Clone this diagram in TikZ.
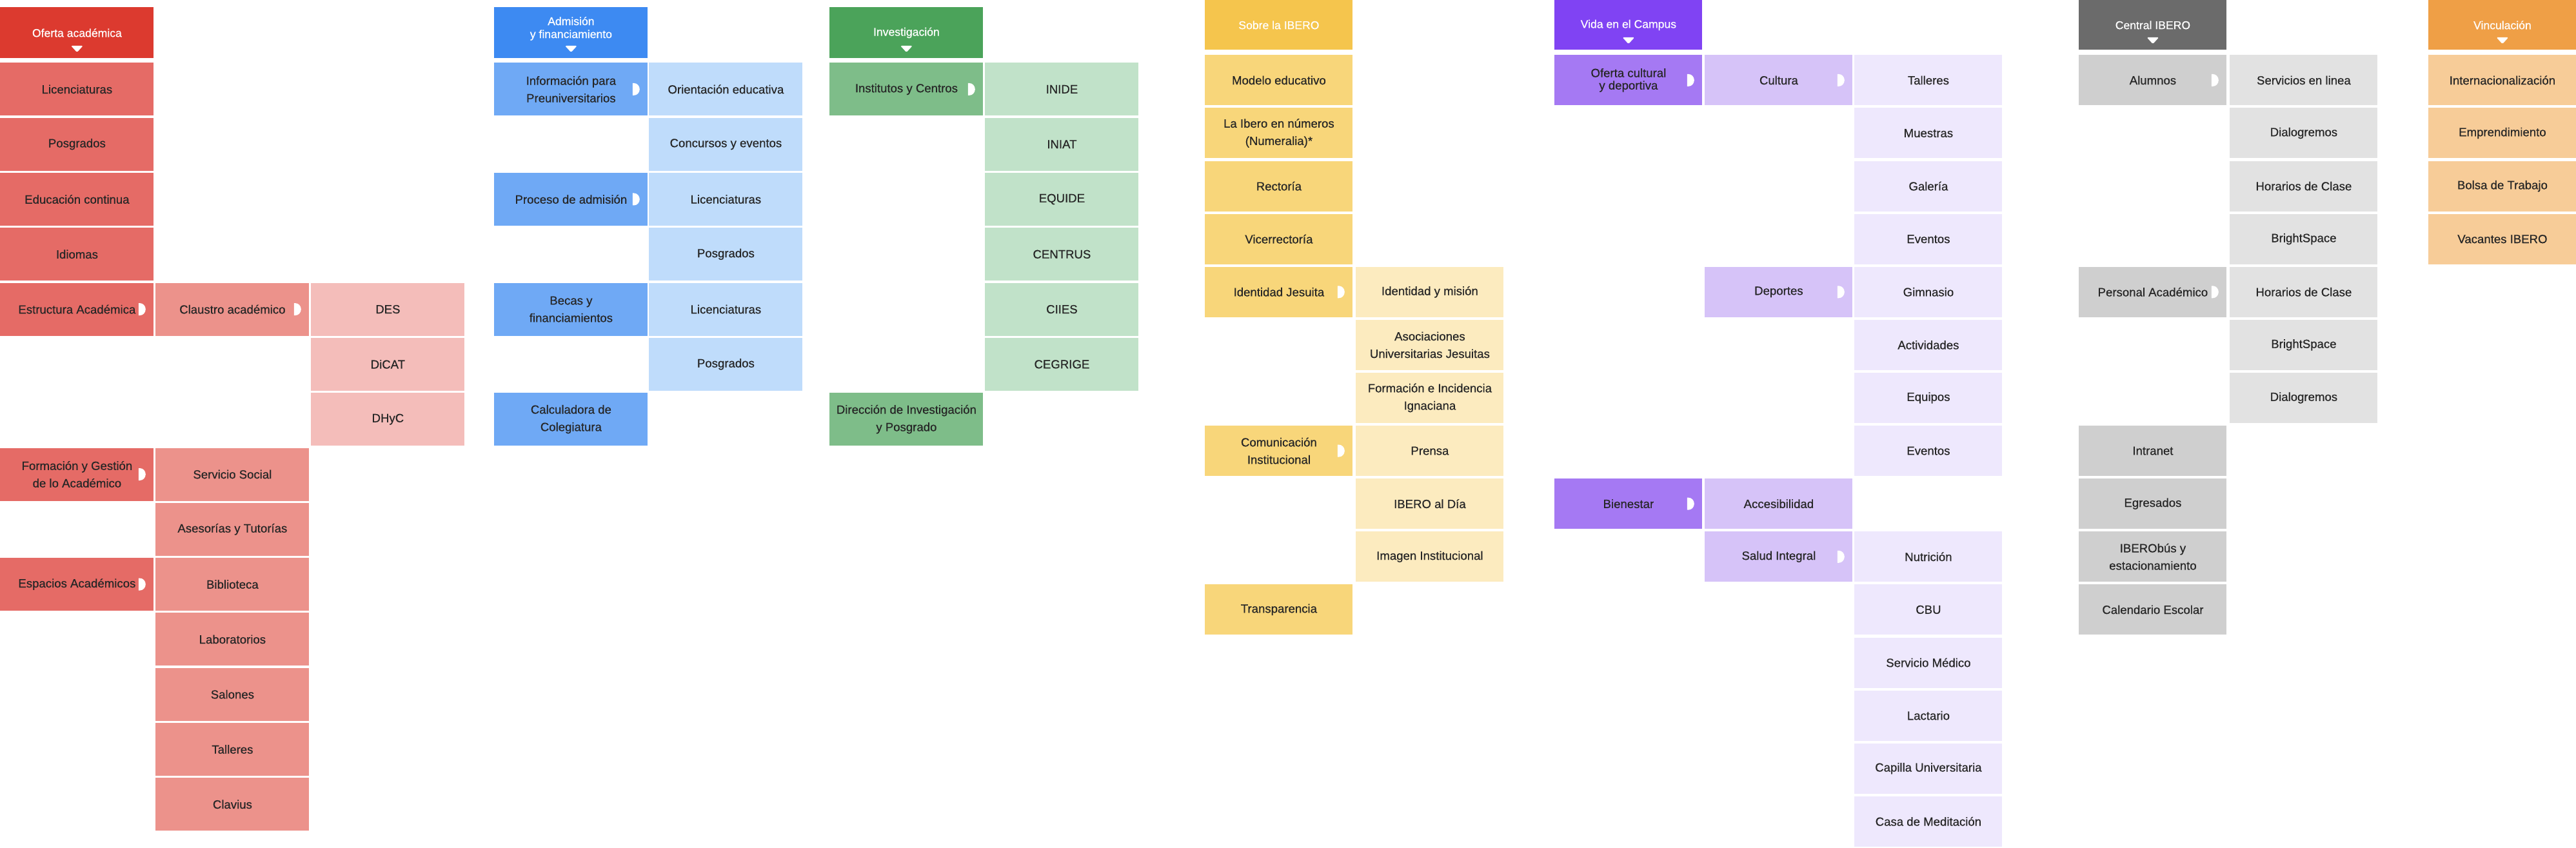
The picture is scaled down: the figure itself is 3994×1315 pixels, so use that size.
\documentclass[tikz,border=0pt]{standalone}
\usepackage{fontspec}
\setmainfont{Liberation Sans}[UprightFeatures={FakeBold=0.5}]
\usepackage{tikz}
\usepackage{xcolor}
\definecolor{tinta}{HTML}{262626}
\definecolor{ofA}{HTML}{DC3A2F}
\definecolor{ofB}{HTML}{E56B66}
\definecolor{ofC}{HTML}{EC928B}
\definecolor{ofD}{HTML}{F4BDBA}
\definecolor{adA}{HTML}{3D8AF2}
\definecolor{adB}{HTML}{6FA9F5}
\definecolor{adC}{HTML}{BFDCFB}
\definecolor{inA}{HTML}{4BA35A}
\definecolor{inB}{HTML}{7EBD89}
\definecolor{inC}{HTML}{C1E2C9}
\definecolor{soA}{HTML}{F5C54D}
\definecolor{soB}{HTML}{F8D67A}
\definecolor{soC}{HTML}{FCEBBF}
\definecolor{viA}{HTML}{8043F3}
\definecolor{viB}{HTML}{A579F3}
\definecolor{viC}{HTML}{D6C3F8}
\definecolor{viD}{HTML}{EEE8FD}
\definecolor{ceA}{HTML}{6B6B6B}
\definecolor{ceB}{HTML}{CFCFCF}
\definecolor{ceC}{HTML}{E2E2E2}
\definecolor{vnA}{HTML}{EF9F46}
\definecolor{vnB}{HTML}{F7CC98}
% small white marks: submenu (right) and header (down)
\newcommand{\subflecha}[1]{\fill[white] ([xshift=-12pt,yshift=4.75pt]#1.east) -- ++(1pt,0) to[out=0,in=90] ++(4.5pt,-4.75pt) to[out=-90,in=0] ++(-4.5pt,-4.75pt) -- ++(-1pt,0) -- cycle;}
\newcommand{\cabflecha}[1]{\fill[white, rounded corners=0.9pt] ([xshift=-4.75pt,yshift=10pt]#1.south) -- ++(9.5pt,0) -- ++(-4.75pt,-5.2pt) -- cycle;}

\begin{document}
\begin{tikzpicture}[x=0.5pt, y=-0.5pt,
  celda/.style={rectangle, inner sep=0pt, anchor=north west, minimum width=119pt, minimum height=41pt, align=center, text=tinta, font=\fontsize{9.3}{13.5}\selectfont},
  celdar/.style={celda, minimum width=114.5pt, minimum height=39pt},
  cabeza/.style={celda, text=white, minimum height=39.5pt, font=\fontsize{8.8}{10}\selectfont},
  cabezar/.style={cabeza, minimum width=114.5pt, minimum height=38.5pt},
  cabtexto/.style={inner sep=0pt, align=center, text=white, font=\fontsize{8.8}{10}\selectfont},
  junto/.style={font=\fontsize{9.3}{9.6}\selectfont}]

\useasboundingbox (0,0) rectangle (3994,1315);

% Oferta academica
  \node[cabeza, fill=ofA] (ofH) at (0,11) {Oferta académica};
  \cabflecha{ofH}
  \node[celda, fill=ofB] (ofLic) at (0,97) {Licenciaturas};
  \node[celda, fill=ofB] (ofPos) at (0,182.3) {Posgrados};
  \node[celda, fill=ofB] (ofEdu) at (0,267.6) {Educación continua};
  \node[celda, fill=ofB] (ofIdi) at (0,352.9) {Idiomas};
  \node[celda, fill=ofB] (ofEst) at (0,438.2) {Estructura Académica};
  \node[celda, fill=ofB] (ofFor) at (0,694.1) {Formación y Gestión\\de lo Académico};
  \node[celda, fill=ofB] (ofEsp) at (0,864.7) {Espacios Académicos};

    % second level
    \node[celda, fill=ofC] (ofCla) at (241,438.2) {Claustro académico};
    \node[celda, fill=ofC] (ofSer) at (241,694.1) {Servicio Social};
    \node[celda, fill=ofC] (ofAse) at (241,779.4) {Asesorías y Tutorías};
    \node[celda, fill=ofC] (ofBib) at (241,864.7) {Biblioteca};
    \node[celda, fill=ofC] (ofLab) at (241,950) {Laboratorios};
    \node[celda, fill=ofC] (ofSal) at (241,1035.3) {Salones};
    \node[celda, fill=ofC] (ofTal) at (241,1120.6) {Talleres};
    \node[celda, fill=ofC] (ofClv) at (241,1205.9) {Clavius};

    % third level
    \node[celda, fill=ofD] (ofDES) at (482,438.2) {DES};
    \node[celda, fill=ofD] (ofDIC) at (482,523.5) {DiCAT};
    \node[celda, fill=ofD] (ofDHC) at (482,608.8) {DHyC};

  \subflecha{ofEst} \subflecha{ofFor} \subflecha{ofEsp} \subflecha{ofCla}

% Admision y financiamiento
  \node[cabeza, fill=adA] (adH) at (766,11) {};
  \node[cabtexto] (adHt) at ([yshift=3.25pt]adH.center) {Admisión\\y financiamiento};
  \cabflecha{adH}
  \node[celda, fill=adB] (adInf) at (766,97) {Información para\\Preuniversitarios};
  \node[celda, fill=adB] (adPro) at (766,267.6) {Proceso de admisión};
  \node[celda, fill=adB] (adBec) at (766,438.2) {Becas y\\financiamientos};
  \node[celda, fill=adB] (adCal) at (766,608.8) {Calculadora de\\Colegiatura};

    \node[celda, fill=adC] (adOri) at (1006,97) {Orientación educativa};
    \node[celda, fill=adC] (adCon) at (1006,182.3) {Concursos y eventos};
    \node[celda, fill=adC] (adLicA) at (1006,267.6) {Licenciaturas};
    \node[celda, fill=adC] (adPosA) at (1006,352.9) {Posgrados};
    \node[celda, fill=adC] (adLicB) at (1006,438.2) {Licenciaturas};
    \node[celda, fill=adC] (adPosB) at (1006,523.5) {Posgrados};

  \subflecha{adInf} \subflecha{adPro}

% Investigacion
  \node[cabeza, fill=inA] (inH) at (1286,11) {Investigación};
  \cabflecha{inH}
  \node[celda, fill=inB] (inIns) at (1286,97) {Institutos y Centros};
  \node[celda, fill=inB] (inDir) at (1286,608.8) {Dirección de Investigación\\y Posgrado};

    \node[celda, fill=inC] (inIND) at (1527,97) {INIDE};
    \node[celda, fill=inC] (inINA) at (1527,182.3) {INIAT};
    \node[celda, fill=inC] (inEQU) at (1527,267.6) {EQUIDE};
    \node[celda, fill=inC] (inCEN) at (1527,352.9) {CENTRUS};
    \node[celda, fill=inC] (inCII) at (1527,438.2) {CIIES};
    \node[celda, fill=inC] (inCEG) at (1527,523.5) {CEGRIGE};

  \subflecha{inIns}

% Sobre la IBERO
  \node[cabezar, fill=soA] (soH) at (1868,0) {Sobre la IBERO};
  \node[celdar, fill=soB] (soMod) at (1868,85) {Modelo educativo};
  \node[celdar, fill=soB] (soNum) at (1868,167.1) {La Ibero en números\\(Numeralia)*};
  \node[celdar, fill=soB] (soRec) at (1868,249.2) {Rectoría};
  \node[celdar, fill=soB] (soVic) at (1868,331.3) {Vicerrectoría};
  \node[celdar, fill=soB] (soIde) at (1868,413.4) {Identidad Jesuita};
  \node[celdar, fill=soB] (soCom) at (1868,659.7) {Comunicación\\Institucional};
  \node[celdar, fill=soB] (soTra) at (1868,906) {Transparencia};

    \node[celdar, fill=soC] (soMis) at (2102,413.4) {Identidad y misión};
    \node[celdar, fill=soC] (soAso) at (2102,495.5) {Asociaciones\\Universitarias Jesuitas};
    \node[celdar, fill=soC] (soFor) at (2102,577.6) {Formación e Incidencia\\Ignaciana};
    \node[celdar, fill=soC] (soPre) at (2102,659.7) {Prensa};
    \node[celdar, fill=soC] (soDia) at (2102,741.8) {IBERO al Día};
    \node[celdar, fill=soC] (soIma) at (2102,823.9) {Imagen Institucional};

  \subflecha{soIde} \subflecha{soCom}

% Vida en el Campus
  \node[cabezar, fill=viA] (viH) at (2410,0) {Vida en el Campus};
  \cabflecha{viH}
  \node[celdar, fill=viB, junto] (viOfe) at (2410,85) {Oferta cultural\\y deportiva};
  \node[celdar, fill=viB] (viBie) at (2410,741.8) {Bienestar};

    \node[celdar, fill=viC] (viCul) at (2643,85) {Cultura};
    \node[celdar, fill=viC] (viDep) at (2643,413.4) {Deportes};
    \node[celdar, fill=viC] (viAcc) at (2643,741.8) {Accesibilidad};
    \node[celdar, fill=viC] (viSal) at (2643,823.9) {Salud Integral};

    % third level
    \node[celdar, fill=viD] (viTal) at (2875,85) {Talleres};
    \node[celdar, fill=viD] (viMue) at (2875,167.1) {Muestras};
    \node[celdar, fill=viD] (viGal) at (2875,249.2) {Galería};
    \node[celdar, fill=viD] (viEvA) at (2875,331.3) {Eventos};
    \node[celdar, fill=viD] (viGim) at (2875,413.4) {Gimnasio};
    \node[celdar, fill=viD] (viAct) at (2875,495.5) {Actividades};
    \node[celdar, fill=viD] (viEqu) at (2875,577.6) {Equipos};
    \node[celdar, fill=viD] (viEvB) at (2875,659.7) {Eventos};
    \node[celdar, fill=viD] (viNut) at (2875,823.9) {Nutrición};
    \node[celdar, fill=viD] (viCBU) at (2875,906) {CBU};
    \node[celdar, fill=viD] (viMed) at (2875,988.1) {Servicio Médico};
    \node[celdar, fill=viD] (viLac) at (2875,1070.2) {Lactario};
    \node[celdar, fill=viD] (viCap) at (2875,1152.3) {Capilla Universitaria};
    \node[celdar, fill=viD] (viCas) at (2875,1234.4) {Casa de Meditación};

  \subflecha{viOfe} \subflecha{viBie} \subflecha{viCul} \subflecha{viDep} \subflecha{viSal}

% Central IBERO
  \node[cabezar, fill=ceA] (ceH) at (3223,0) {Central IBERO};
  \cabflecha{ceH}
  \node[celdar, fill=ceB] (ceAlu) at (3223,85) {Alumnos};
  \node[celdar, fill=ceB] (cePer) at (3223,413.4) {Personal Académico};
  \node[celdar, fill=ceB] (ceInt) at (3223,659.7) {Intranet};
  \node[celdar, fill=ceB] (ceEgr) at (3223,741.8) {Egresados};
  \node[celdar, fill=ceB] (ceBus) at (3223,823.9) {IBERObús y\\estacionamiento};
  \node[celdar, fill=ceB] (ceCal) at (3223,906) {Calendario Escolar};

    \node[celdar, fill=ceC] (ceSer) at (3457,85) {Servicios en linea};
    \node[celdar, fill=ceC] (ceDiaA) at (3457,167.1) {Dialogremos};
    \node[celdar, fill=ceC] (ceHorA) at (3457,249.2) {Horarios de Clase};
    \node[celdar, fill=ceC] (ceBriA) at (3457,331.3) {BrightSpace};
    \node[celdar, fill=ceC] (ceHorB) at (3457,413.4) {Horarios de Clase};
    \node[celdar, fill=ceC] (ceBriB) at (3457,495.5) {BrightSpace};
    \node[celdar, fill=ceC] (ceDiaB) at (3457,577.6) {Dialogremos};

  \subflecha{ceAlu} \subflecha{cePer}

% Vinculacion
  \node[cabezar, fill=vnA] (vnH) at (3765,0) {Vinculación};
  \cabflecha{vnH}
  \node[celdar, fill=vnB] (vnInt) at (3765,85) {Internacionalización};
  \node[celdar, fill=vnB] (vnEmp) at (3765,167.1) {Emprendimiento};
  \node[celdar, fill=vnB] (vnBol) at (3765,249.2) {Bolsa de Trabajo};
  \node[celdar, fill=vnB] (vnVac) at (3765,331.3) {Vacantes IBERO};

\end{tikzpicture}
\end{document}
